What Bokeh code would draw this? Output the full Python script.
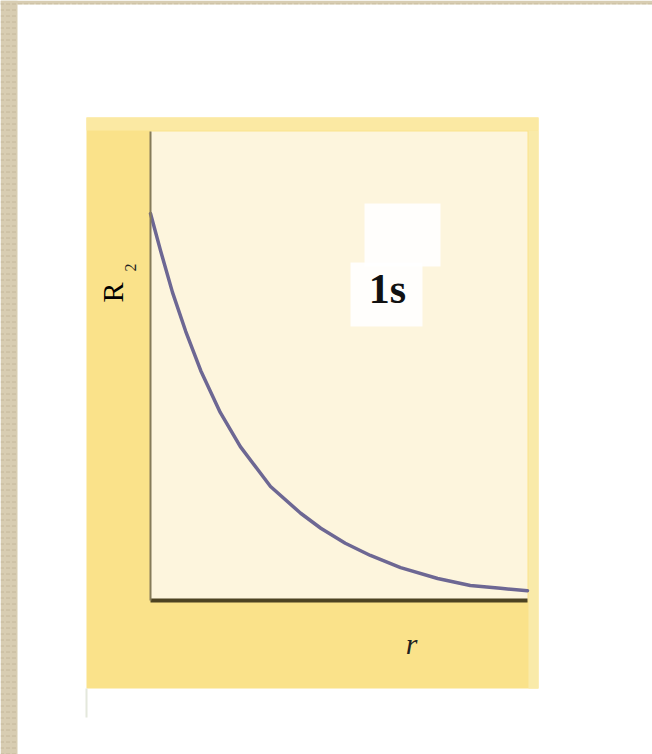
from bokeh.plotting import figure
from bokeh.models import BoxAnnotation, Label, Range1d
from bokeh.embed import file_html
from bokeh.resources import INLINE

# Radial density of the 1s orbital, sampled along r
r_values = [0, 0.16, 0.35, 0.56, 0.8, 1.11, 1.43, 1.91, 2.39, 2.71, 3.1, 3.5,
            3.98, 4.57, 5.09, 5.57, 6.0]
r2_values = [0.825, 0.746, 0.657, 0.574, 0.49, 0.401, 0.328, 0.243, 0.186, 0.154,
             0.122, 0.096, 0.07, 0.047, 0.032, 0.026, 0.021]

orbital_name = "1s"
x_label = "r"
y_label = "R"
y_label_power = "2"

X_MIN, X_MAX = 0, 6
Y_MIN, Y_MAX = 0, 1

W, H = 652, 754
# pixel box of the plotting area inside the page
AREA_L, AREA_R, AREA_T, AREA_B = 150, 527, 131, 600

# extend the data ranges so the data box lands on the plotting area
x_per_px = (X_MAX - X_MIN) / (AREA_R - AREA_L)
y_per_px = (Y_MAX - Y_MIN) / (AREA_B - AREA_T)
x_range = Range1d(X_MIN - AREA_L * x_per_px, X_MAX + (W - AREA_R) * x_per_px)
y_range = Range1d(Y_MIN - (H - AREA_B) * y_per_px, Y_MAX + AREA_T * y_per_px)

p = figure(
    width=W, height=H, x_range=x_range, y_range=y_range,
    min_border=0, output_backend="svg", toolbar_location=None,
    background_fill_color="white", border_fill_color="white",
    outline_line_color=None,
)
p.xgrid.visible = False
p.ygrid.visible = False

p.xaxis.fixed_location = Y_MIN
p.yaxis.fixed_location = X_MIN
p.xaxis.bounds = (X_MIN, X_MAX)
p.yaxis.bounds = (Y_MIN, Y_MAX)
for ax, color, width in ((p.xaxis, "#4d4322", 4), (p.yaxis, "#857b58", 2)):
    ax.ticker = []
    ax.major_tick_line_color = None
    ax.minor_tick_line_color = None
    ax.major_label_text_color = None
    ax.axis_line_color = color
    ax.axis_line_width = width


def canvas_box(left, right, top, bottom, **kw):
    return BoxAnnotation(
        left=left, right=right, top=top, bottom=bottom,
        left_units="canvas", right_units="canvas",
        top_units="canvas", bottom_units="canvas",
        line_color=None, level="underlay", **kw,
    )


# yellow mount with its lighter bands
p.add_layout(canvas_box(86, 538, 117, 688, fill_color="#fae28a", fill_alpha=1))
p.add_layout(canvas_box(86, 538, 117, 130, fill_color="#fbe9a3", fill_alpha=1))
p.add_layout(canvas_box(528, 538, 130, 688, fill_color="#f9eaa9", fill_alpha=1))
p.add_layout(canvas_box(85, 87, 688, 717, fill_color="#e4e8dc", fill_alpha=1))
# cream plotting area
p.add_layout(canvas_box(AREA_L, AREA_R, AREA_T, AREA_B, fill_color="#fdf5dd", fill_alpha=1))

# textured paper edge
p.add_layout(canvas_box(0, 17, 0, H, fill_color="#d8cdb2", fill_alpha=1,
                        hatch_pattern="horizontal_dash", hatch_color="#b8aa8c",
                        hatch_scale=6, hatch_alpha=0.6))
p.add_layout(canvas_box(0, W, 0, 4, fill_color="#d8cdb2", fill_alpha=1,
                        hatch_pattern="horizontal_dash", hatch_color="#b8aa8c",
                        hatch_scale=6, hatch_alpha=0.6))

# white tag behind the orbital name
p.add_layout(canvas_box(364, 440, 203, 266, fill_color="white", fill_alpha=0.9))
p.add_layout(canvas_box(350, 422, 262, 326, fill_color="white", fill_alpha=0.9))

p.line(r_values, r2_values, line_color="#6d6793", line_width=3.5,
       line_join="round", line_cap="round")

p.add_layout(Label(x=387, y=288, x_units="canvas", y_units="canvas",
                   text=orbital_name, text_font="Liberation Serif",
                   text_font_style="bold", text_font_size="42px",
                   text_color="#111111", text_align="center",
                   text_baseline="middle"))
p.add_layout(Label(x=112, y=292, x_units="canvas", y_units="canvas",
                   text=y_label, text_font="Liberation Serif",
                   text_font_size="30px", text_color="#000000",
                   angle=1.5708, text_align="center", text_baseline="middle"))
p.add_layout(Label(x=130, y=267, x_units="canvas", y_units="canvas",
                   text=y_label_power, text_font="Liberation Serif",
                   text_font_size="16px", text_color="#222222",
                   angle=1.5708, text_align="center", text_baseline="middle"))
p.add_layout(Label(x=411, y=643, x_units="canvas", y_units="canvas",
                   text=x_label, text_font="Liberation Serif",
                   text_font_style="italic", text_font_size="30px",
                   text_color="#222222", text_align="center",
                   text_baseline="middle"))

open("out.html", "w").write(file_html(p, INLINE))
